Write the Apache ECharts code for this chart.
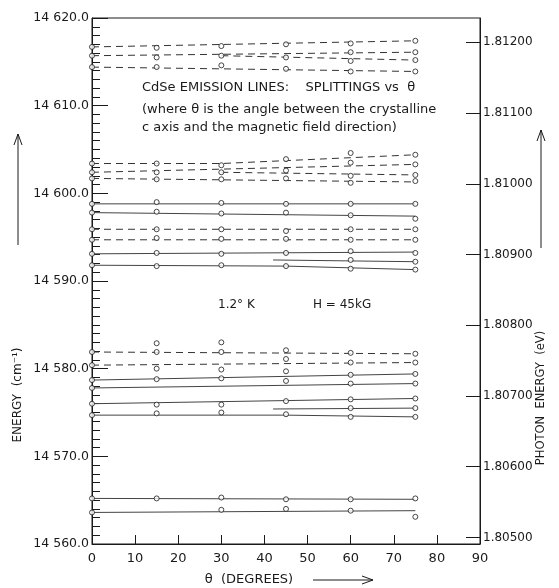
<!DOCTYPE html>
<html>
<head>
<meta charset="utf-8">
<script src="https://cdn.jsdelivr.net/npm/echarts@6/dist/echarts.min.js"></script>
<style>
  html, body { margin: 0; padding: 0; background: #fff; }
  #chart { width: 559px; height: 588px; }
</style>
</head>
<body>
<div id="chart"></div>
<script>
// cm^-1 per eV
var K = 8066.9;

var xTicks = [0, 10, 20, 30, 40, 50, 60, 70, 80, 90];
var evTicks = [1.805, 1.806, 1.807, 1.808, 1.809, 1.810, 1.811, 1.812];

// measured points at each angle (cm^-1)
var thetas = [0, 15, 30, 45, 60, 75];
var pts0  = [14616.7, 14615.7, 14614.4, 14603.4, 14602.4, 14601.7, 14598.8, 14597.8, 14595.9, 14594.7, 14593.1, 14591.8,
             14581.9, 14580.4, 14578.7, 14577.8, 14576.0, 14574.7, 14565.2, 14563.6];
var pts15 = [14616.6, 14615.5, 14614.4, 14603.4, 14602.4, 14601.6, 14599.0, 14597.9, 14595.9, 14594.9, 14593.2, 14591.7,
             14582.9, 14581.9, 14580.0, 14578.8, 14575.9, 14574.9, 14565.2];
var pts30 = [14616.8, 14615.7, 14614.6, 14603.2, 14602.4, 14601.6, 14598.9, 14597.7, 14595.9, 14594.8, 14593.1, 14591.8,
             14583.0, 14581.9, 14579.9, 14578.9, 14575.9, 14575.0, 14565.3, 14563.9];
var pts45 = [14617.0, 14615.5, 14614.2, 14603.9, 14602.6, 14601.7, 14598.8, 14597.8, 14595.7, 14594.8, 14593.2, 14591.7,
             14582.1, 14581.1, 14579.7, 14578.6, 14576.3, 14574.8, 14565.1, 14564.0];
var pts60 = [14617.1, 14616.1, 14615.1, 14613.9, 14604.6, 14603.5, 14602.0, 14601.2, 14598.8, 14597.5, 14595.9, 14594.7,
             14593.4, 14592.4, 14591.4, 14581.8, 14580.7, 14579.3, 14578.3, 14576.5, 14575.5, 14574.5, 14565.1, 14563.8];
var pts75 = [14617.4, 14616.1, 14615.2, 14613.9, 14604.4, 14603.3, 14602.1, 14601.4, 14598.8, 14597.1, 14595.9, 14594.7,
             14593.2, 14592.2, 14591.3, 14581.7, 14580.7, 14579.4, 14578.3, 14576.6, 14575.5, 14574.5, 14565.2, 14563.1];

// fitted lines [theta, cm^-1]
var dashedLines = [
  [[0, 14616.7], [75, 14617.4]],
  [[0, 14615.7], [75, 14616.1]],
  [[30, 14615.7], [75, 14615.2]],
  [[0, 14614.4], [75, 14613.9]],
  [[0, 14603.4], [30, 14603.4], [75, 14604.4]],
  [[0, 14602.4], [75, 14603.3]],
  [[30, 14602.4], [75, 14602.1]],
  [[0, 14601.7], [75, 14601.3]],
  [[0, 14595.9], [75, 14595.9]],
  [[0, 14594.7], [75, 14594.7]],
  [[0, 14581.9], [75, 14581.7]],
  [[0, 14580.4], [75, 14580.7]]
];
var solidLines = [
  [[0, 14598.8], [75, 14598.8]],
  [[0, 14597.8], [75, 14597.4]],
  [[0, 14593.1], [75, 14593.3]],
  [[0, 14591.8], [45, 14591.7], [75, 14591.3]],
  [[42, 14592.4], [75, 14592.2]],
  [[0, 14578.7], [75, 14579.4]],
  [[0, 14577.8], [75, 14578.3]],
  [[0, 14576.0], [75, 14576.6]],
  [[42, 14575.4], [75, 14575.5]],
  [[0, 14574.7], [45, 14574.7], [75, 14574.5]],
  [[0, 14565.2], [75, 14565.1]],
  [[0, 14563.6], [75, 14563.8]]
];

var FONT = 'DejaVu Sans';
var ink = '#1a1a1a';

var marks = [];
[pts0, pts15, pts30, pts45, pts60, pts75].forEach(function (arr, i) {
  arr.forEach(function (v) { marks.push([thetas[i], v]); });
});

var series = [];
dashedLines.forEach(function (d) {
  series.push({ type: 'line', data: d, showSymbol: false, silent: true,
    lineStyle: { color: '#333', width: 1, type: [7, 5] } });
});
solidLines.forEach(function (d) {
  series.push({ type: 'line', data: d, showSymbol: false, silent: true,
    lineStyle: { color: '#444', width: 1, type: 'solid' } });
});
series.push({
  type: 'scatter', data: marks, symbol: 'circle', symbolSize: 5, z: 5,
  itemStyle: { color: '#fff', borderColor: ink, borderWidth: 1 }
});

function txt(x, y, s, size, align, rot) {
  return {
    type: 'text', x: x, y: y, rotation: rot || 0, silent: true,
    style: { text: s, fill: ink, font: size + 'px "' + FONT + '"', align: align || 'left', verticalAlign: 'middle' }
  };
}
function arrowUp(x, y0, y1) {
  return [
    { type: 'line', shape: { x1: x, y1: y0, x2: x, y2: y1 }, style: { stroke: ink, lineWidth: 1 } },
    { type: 'polyline', shape: { points: [[x - 4, y1 + 11], [x, y1], [x + 4, y1 + 11]] }, style: { stroke: ink, lineWidth: 1, fill: null } }
  ];
}

var graphics = [
  txt(142, 88, 'CdSe EMISSION LINES:    SPLITTINGS vs  θ', 13),
  txt(142, 110, '(where θ is the angle between the crystalline', 13),
  txt(142, 128, 'c axis and the magnetic field direction)', 13),
  txt(218, 305, '1.2° K', 12),
  txt(313, 305, 'H = 45kG', 12),
  txt(18, 395, 'ENERGY  (cm⁻¹)', 12, 'center', Math.PI / 2),
  txt(541, 398, 'PHOTON  ENERGY  (eV)', 11.5, 'center', Math.PI / 2),
  txt(249, 580, 'θ  (DEGREES)', 13, 'center'),
  { type: 'line', shape: { x1: 313, y1: 580, x2: 373, y2: 580 }, style: { stroke: ink, lineWidth: 1 } },
  { type: 'polyline', shape: { points: [[362, 576], [373, 580], [362, 584]] }, style: { stroke: ink, lineWidth: 1, fill: null } }
].concat(arrowUp(18, 245, 134)).concat(arrowUp(541, 248, 130));

var chart = echarts.init(document.getElementById('chart'), null, { renderer: 'canvas' });
chart.setOption({
  animation: false,
  backgroundColor: '#fff',
  grid: { left: 92, right: 79, top: 18, bottom: 44, show: true, borderColor: ink, borderWidth: 1 },
  xAxis: {
    type: 'value', min: 0, max: 90, interval: 10,
    axisLine: { lineStyle: { color: ink } },
    axisTick: { inside: true, length: 9, lineStyle: { color: ink } },
    axisLabel: { color: ink, fontSize: 13, fontFamily: FONT, margin: 8,
      customValues: xTicks },
    splitLine: { show: false }
  },
  yAxis: [{
    type: 'value', min: 14560, max: 14620, interval: 10,
    axisLine: { show: true, lineStyle: { color: ink } },
    axisTick: { inside: true, length: 16, lineStyle: { color: ink } },
    minorTick: { show: true, splitNumber: 10, length: 8, lineStyle: { color: ink } },
    axisLabel: { color: ink, fontSize: 12.5, fontFamily: FONT, margin: 3,
      formatter: function (v) { return Math.floor(v / 1000) + ' ' + (v % 1000).toFixed(1); } },
    splitLine: { show: false }
  }, {
    type: 'value', position: 'right', min: 14560 / K, max: 14620 / K,
    axisLine: { show: true, lineStyle: { color: ink } },
    axisTick: { inside: true, length: 14, customValues: evTicks, lineStyle: { color: ink } },
    axisLabel: { color: ink, fontSize: 12, fontFamily: FONT, margin: 3, customValues: evTicks,
      formatter: function (v) { return v.toFixed(5); } },
    splitLine: { show: false }
  }],
  series: series,
  graphic: graphics
});
</script>
</body>
</html>
